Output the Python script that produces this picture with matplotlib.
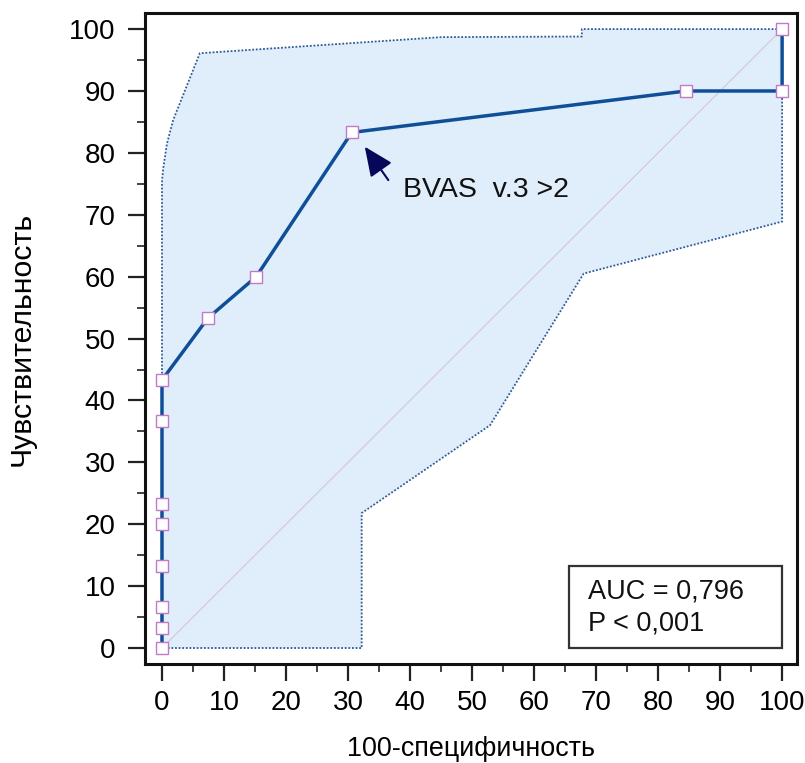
import matplotlib
matplotlib.use("Agg")
import matplotlib.pyplot as plt
from matplotlib.patches import Rectangle, Polygon

plt.rcParams['font.family'] = ['Liberation Sans', 'DejaVu Sans']

# ROC curve points (100-specificity, sensitivity)
roc_x = [0, 0, 0, 0, 0, 0, 0, 0, 7.4, 15.2, 30.6, 84.5, 100, 100]
roc_y = [0, 3.3, 6.7, 13.3, 20.0, 23.3, 36.7, 43.3, 53.3, 60.0, 83.3, 90.0, 90.0, 100]

# Confidence band boundary (upper part then lower part)
band_upper_x = [0, 0, 0.2, 0.8, 1.8, 6.1, 45.0, 67.7, 67.7, 100]
band_upper_y = [0, 75.5, 77.5, 81.5, 85.3, 96.1, 98.7, 98.8, 100, 100]
band_lower_x = [100, 68.0, 52.9, 32.2, 32.2, 0]
band_lower_y = [68.9, 60.5, 36.0, 21.8, 0, 0]

xticks = list(range(0, 101, 10))
yticks = list(range(0, 101, 10))

auc_text = "AUC = 0,796"
p_text = "P < 0,001"
criterion_label = "BVAS  v.3 >2"
criterion_index = 10

fig = plt.figure(figsize=(8.05, 7.63), dpi=100)
ax = fig.add_axes([145/805, 1-664/763, (797-145)/805, (664-13)/763])
ax.set_xlim(-2.74, 102.4)
ax.set_ylim(-2.58, 102.6)

# band
bx = band_upper_x + band_lower_x
by = band_upper_y + band_lower_y
poly = Polygon(list(zip(bx, by)), closed=True, facecolor='#e0edfb', edgecolor='none', zorder=1)
ax.add_patch(poly)
ax.plot(bx, by, color='#2f5a96', lw=1.3, linestyle=(0, (1, 1)), zorder=2)

# diagonal
ax.plot([0, 100], [0, 100], color='#d6c9df', lw=0.9, zorder=2)

# ROC
ax.plot(roc_x, roc_y, color='#0f4f98', lw=2.5, zorder=3,
        marker='s', markersize=8.3, markerfacecolor='white',
        markeredgecolor='#c27ac4', markeredgewidth=1.0)

# annotation arrow
px, py = roc_x[criterion_index], roc_y[criterion_index]
ax.annotate('', xy=(px + 2.1, py - 2.3), xytext=(px + 5.9, py - 7.7),
            arrowprops=dict(arrowstyle='-|>,head_length=1.8,head_width=0.8',
                            color='#07075a', lw=1.5, shrinkA=0, shrinkB=0), zorder=4)
ax.text(px + 8.3, py - 9.3, criterion_label, fontsize=20.5, color='#111111',
        ha='left', va='center', zorder=4)

# AUC box
ax.add_patch(Rectangle((65.7, 0.0), 34.25, 13.25, facecolor='white', edgecolor='#333333',
                       lw=1.6, zorder=5))
ax.text(68.7, 9.2, auc_text, fontsize=19.5, ha='left', va='center', zorder=6, color='#111111')
ax.text(68.7, 3.9, p_text, fontsize=19.5, ha='left', va='center', zorder=6, color='#111111')

ax.set_xticks(xticks)
ax.set_yticks(yticks)
ax.set_xticks(list(range(5, 100, 10)), minor=True)
ax.set_yticks(list(range(5, 100, 10)), minor=True)
ax.tick_params(which='major', length=12, width=1.6, labelsize=20, pad=7, color='#222222')
ax.tick_params(which='minor', length=6, width=1.2, color='#222222')
ax.tick_params(axis='y', which='major', pad=9)
for s in ax.spines.values():
    s.set_linewidth(2.2)
    s.set_color('#111111')

ax.set_xlabel('100-специфичность', fontsize=19.4, labelpad=14)
ax.set_ylabel('Чувствительность', fontsize=21.8, labelpad=24)

fig.savefig('out.png', dpi=100)
